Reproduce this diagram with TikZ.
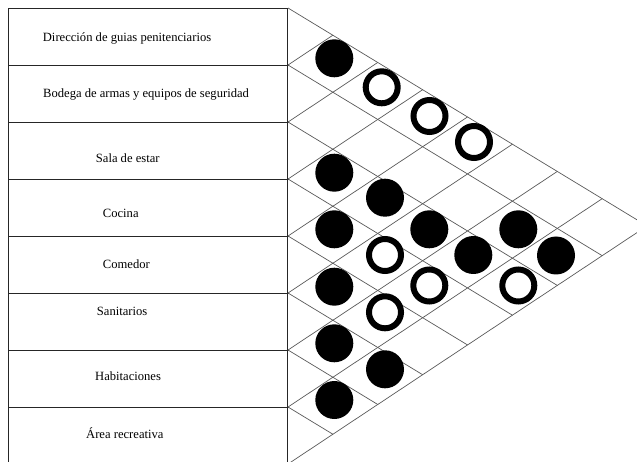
\documentclass[tikz,border=0pt]{standalone}
\usepackage{fontspec}
\setmainfont{Liberation Serif}
\begin{document}
\begin{tikzpicture}[
    x=1pt, y=-1pt,
    room/.style={anchor=base west, inner sep=0pt, font=\fontsize{12.6}{15}\selectfont},
    tablerule/.style={line width=0.9pt, black!85},
    diag/.style={line width=0.7pt, black!65},
    dotfull/.style={circle, fill=black, minimum size=38pt, inner sep=0pt},
    dotring/.style={circle, draw=black, line width=6pt, minimum size=32pt, inner sep=0pt}
]
    \clip (0,0) rectangle (637,462);

    % Room table
    \draw[tablerule] (8,8) rectangle (287.5,464);
    \foreach \r in {1,...,7}
        \draw[tablerule] (8,{8+57*\r}) -- (289,{8+57*\r});

    % Room names
    \node[room] (direccion) at (42.7,41.5) {Dirección de guias penitenciarios};
    \node[room] (bodega) at (43,97.5) {Bodega de armas y equipos de seguridad};
    \node[room] (sala) at (95.7,162.5) {Sala de estar};
    \node[room] (cocina) at (102.7,217.5) {Cocina};
    \node[room] (comedor) at (102.7,268.5) {Comedor};
    \node[room] (sanitarios) at (96.7,315.3) {Sanitarios};
    \node[room] (habitaciones) at (95,380.3) {Habitaciones};
    \node[room] (recreativa) at (86,438) {Área recreativa};

    % Relation matrix
    \foreach \i in {0,...,7}
        \draw[diag] (288,{8+57*\i}) -- ++({(8-\i)*44.9},{(8-\i)*27.25});
    \foreach \j in {1,...,8}
        \draw[diag] (288,{8+57*\j}) -- ++({\j*44.9},{-\j*29.77});

    % Direct relation
    \foreach \n/\px/\py in {c12/334.3/58.3, c34/334.3/172.7, c35/385/197.7,
                            c45/334.3/229.3, c36/429.3/229.3, c27/518.3/229.3,
                            c37/473.3/255, c28/556/255.5, c56/334.3/286.7,
                            c67/334.3/343.3, c68/385/369.3, c78/334.3/400}
        \node[dotfull] (\n) at (\px,\py) {};

    % Indirect relation
    \foreach \n/\px/\py in {c13/381.7/87.3, c14/429.5/116, c15/474/142,
                            c46/385/255, c47/429.3/285.5, c38/518.3/285.5,
                            c57/385/312.3}
        \node[dotring] (\n) at (\px,\py) {};

\end{tikzpicture}
\end{document}
